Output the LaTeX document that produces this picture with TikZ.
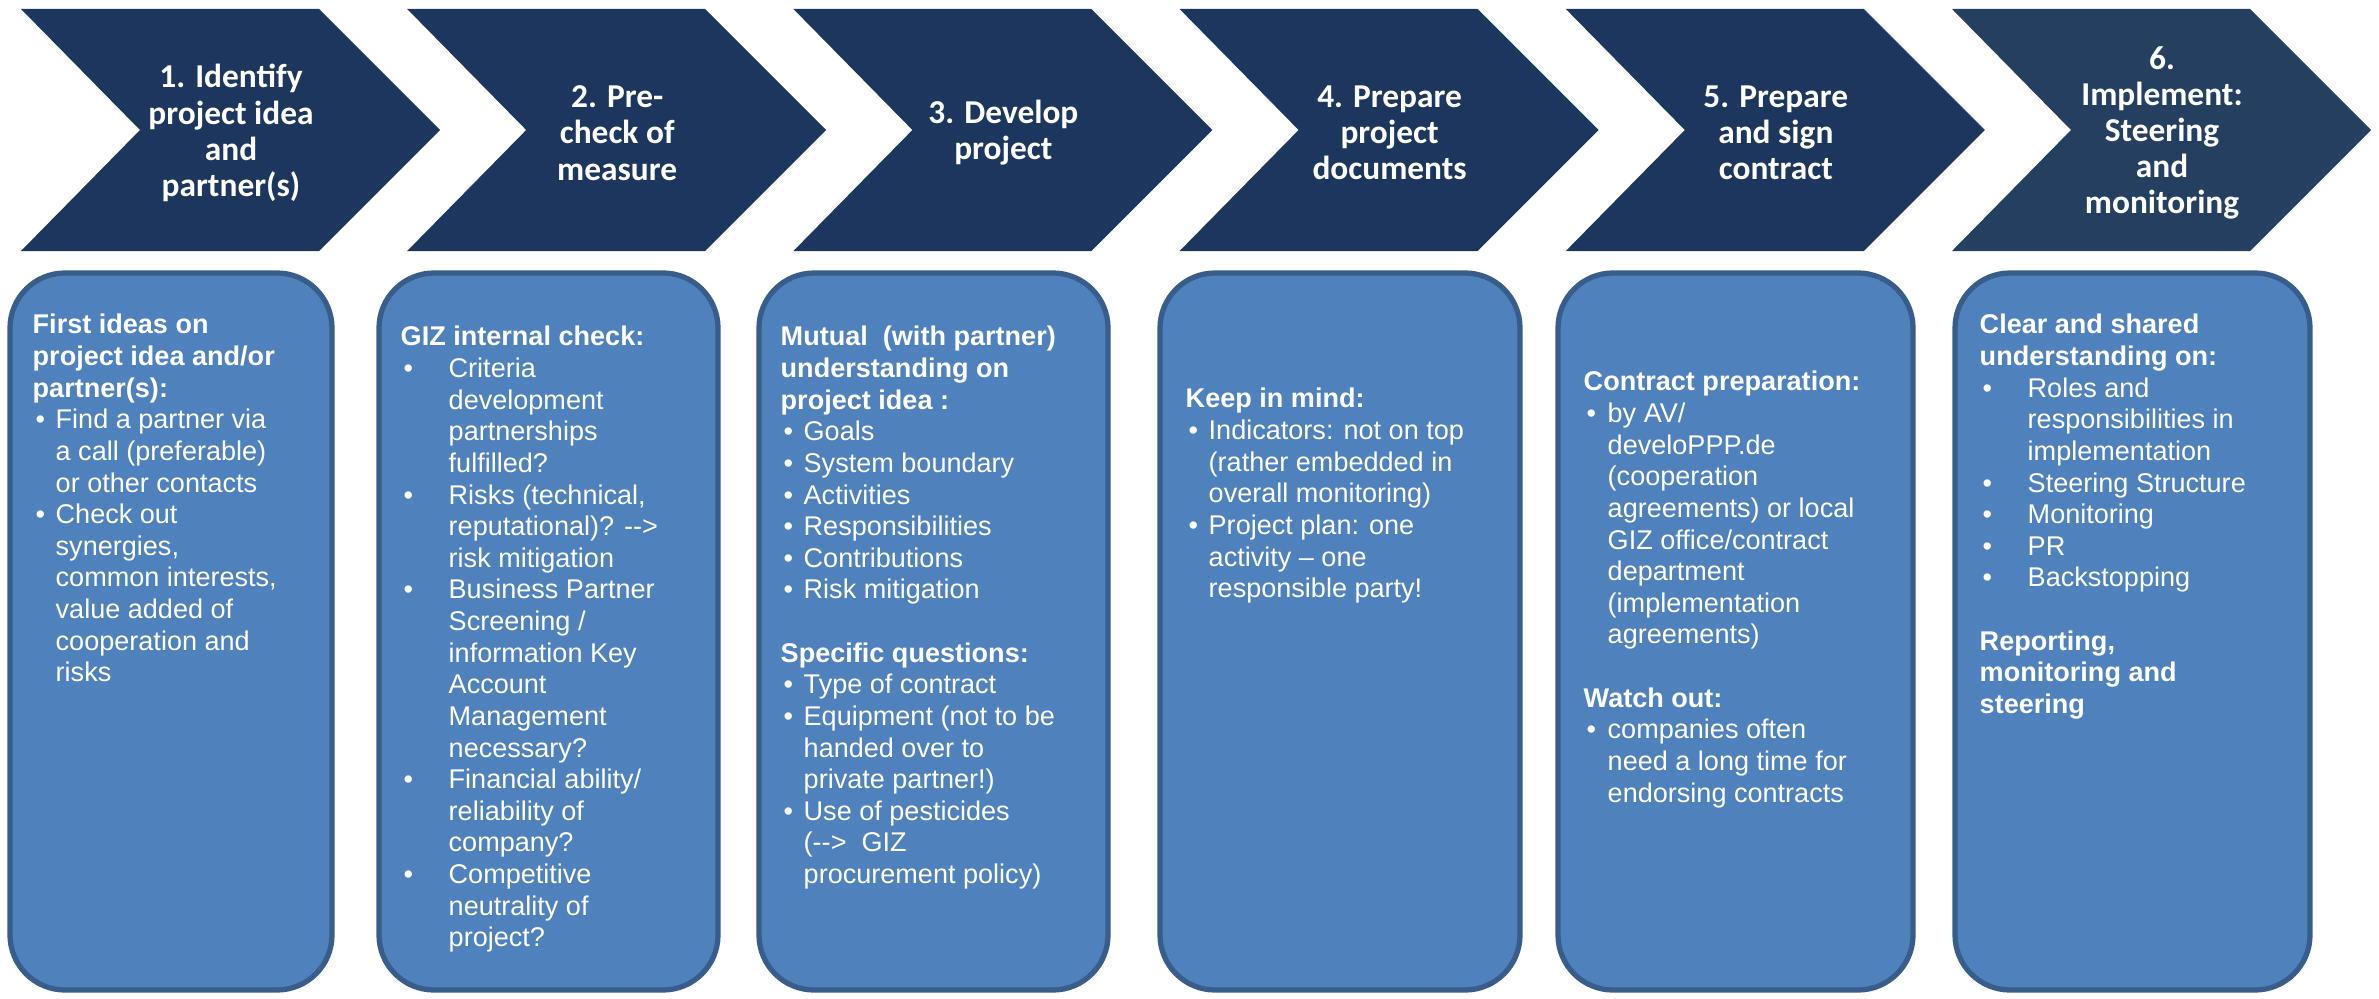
\documentclass[tikz,border=0pt]{standalone}
\usepackage{fontspec}
\setmainfont{Liberation Sans}
\newfontfamily\chevfont{Carlito}
\usepackage{array}
\definecolor{navy}{RGB}{28,54,94}
\definecolor{navylight}{RGB}{37,63,96}
\definecolor{boxblue}{RGB}{79,129,189}
\definecolor{boxedge}{RGB}{56,93,138}
\newcommand{\hd}[1]{\multicolumn{2}{@{}l@{}}{\bfseries #1}}
\newcommand{\boxlist}[2]{\begin{tabular}{@{}p{#1}@{}l@{}}#2\end{tabular}}
\newcommand{\bul}{\hspace{0.3mm}\textbullet}
\tikzset{
  chevtext/.style={text=white, align=center, font=\chevfont\bfseries\fontsize{9.5}{10.3}\selectfont},
  infobox/.style={draw=boxedge, line width=1.5pt, fill=boxblue, rounded corners=0.55cm,
    minimum height=7.17cm, inner sep=0pt},
  infotext/.style={anchor=north west, inner sep=0pt, text=white, font=\fontsize{7.7}{9}\selectfont}
}
\begin{document}
\begin{tikzpicture}
    \useasboundingbox (0,0) rectangle (23.79,9.98);
    \foreach \i/\col/\lbl in {0/navy/{1. Identify\\project idea\\and\\partner(s)},
        1/navy/{2. Pre-\\check of\\measure}, 2/navy/{3. Develop\\project},
        3/navy/{4. Prepare\\project\\documents}, 4/navy/{5. Prepare\\and sign\\contract},
        5/navylight/{6.\\Implement:\\Steering\\and\\monitoring}}
    {
        \fill[\col] ({0.21+3.862*\i},9.89) -- ++(2.98,0) -- ++(1.21,-1.21) -- ++(-1.21,-1.21)
            -- ++(-2.98,0) -- ++(1.19,1.21) -- cycle;
        \node[chevtext] (c\i) at ({2.31+3.862*\i},8.65) {\lbl};
    }
    \node[infobox, minimum width=3.22cm] (b1) at (1.71,3.665) {};
    \node[infobox, minimum width=3.39cm] (b2) at (5.485,3.665) {};
    \node[infobox, minimum width=3.49cm] (b3) at (9.335,3.665) {};
    \node[infobox, minimum width=3.60cm] (b4) at (13.40,3.665) {};
    \node[infobox, minimum width=3.55cm] (b5) at (17.355,3.665) {};
    \node[infobox, minimum width=3.55cm] (b6) at (21.325,3.665) {};
    \node[infotext] (t1) at (0.32,6.87) {\boxlist{0.23cm}{
        \hd{First ideas on}\\ \hd{project idea and/or}\\ \hd{partner(s):}\\
        \bul & Find a partner via\\ & a call (preferable)\\ & or other contacts\\
        \bul & Check out\\ & synergies,\\ & common interests,\\ & value added of\\
        & cooperation and\\ & risks}};
    \node[infotext] (t2) at (4.00,6.75) {\boxlist{0.48cm}{
        \hd{GIZ internal check:}\\
        \bul & Criteria\\ & development\\ & partnerships\\ & fulfilled?\\
        \bul & Risks (technical,\\ & reputational)? -{}-{}>\\ & risk mitigation\\
        \bul & Business Partner\\ & Screening /\\ & information Key\\ & Account\\
        & Management\\ & necessary?\\
        \bul & Financial ability/\\ & reliability of\\ & company?\\
        \bul & Competitive\\ & neutrality of\\ & project?}};
    \node[infotext] (t3) at (7.80,6.75) {\boxlist{0.23cm}{
        \hd{Mutual\ \ (with partner)}\\ \hd{understanding on}\\ \hd{project idea :}\\
        \bul & Goals\\ \bul & System boundary\\ \bul & Activities\\
        \bul & Responsibilities\\ \bul & Contributions\\ \bul & Risk mitigation\\
        & \\
        \hd{Specific questions:}\\
        \bul & Type of contract\\
        \bul & Equipment (not to be\\ & handed over to\\ & private partner!)\\
        \bul & Use of pesticides\\ & (-{}-{}>\ \ GIZ\\ & procurement policy)}};
    \node[infotext] (t4) at (11.85,6.13) {\boxlist{0.23cm}{
        \hd{Keep in mind:}\\
        \bul & Indicators: not on top\\ & (rather embedded in\\ & overall monitoring)\\
        \bul & Project plan: one\\ & activity -- one\\ & responsible party!}};
    \node[infotext] (t5) at (15.83,6.30) {\boxlist{0.24cm}{
        \hd{Contract preparation:}\\
        \bul & by AV/\\ & develoPPP.de\\ & (cooperation\\ & agreements) or local\\
        & GIZ office/contract\\ & department\\ & (implementation\\ & agreements)\\
        & \\
        \hd{Watch out:}\\
        \bul & companies often\\ & need a long time for\\ & endorsing contracts}};
    \node[infotext] (t6) at (19.79,6.87) {\boxlist{0.48cm}{
        \hd{Clear and shared}\\ \hd{understanding on:}\\
        \bul & Roles and\\ & responsibilities in\\ & implementation\\
        \bul & Steering Structure\\ \bul & Monitoring\\ \bul & PR\\ \bul & Backstopping\\
        & \\
        \hd{Reporting,}\\ \hd{monitoring and}\\ \hd{steering}}};
\end{tikzpicture}
\end{document}
